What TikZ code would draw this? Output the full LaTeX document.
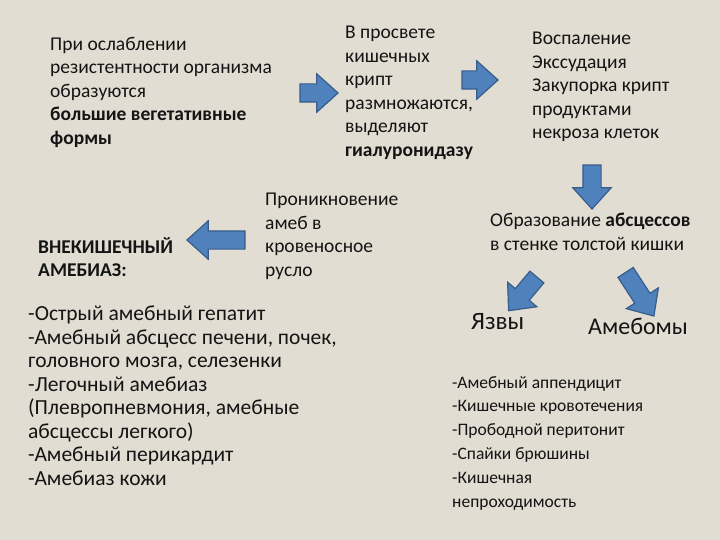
\documentclass[tikz,border=0pt]{standalone}
\usepackage{fontspec}
\setmainfont{Carlito}
\usetikzlibrary{shapes.arrows}
\definecolor{bg}{RGB}{226,221,210}
\definecolor{af}{RGB}{79,129,189}
\definecolor{ad}{RGB}{56,93,138}
\definecolor{tx}{RGB}{20,20,20}
\tikzset{
 txt/.style={anchor=north west,align=left,inner sep=0pt,text=tx,font=\fontsize{19.5}{23.5}\selectfont},
 big/.style={anchor=north west,align=left,inner sep=0pt,text=tx,font=\fontsize{21.5}{23.5}\selectfont},
 barrow/.style={single arrow,fill=af,draw=ad,line width=1.2pt,minimum width=38pt,single arrow head extend=10pt,single arrow tip angle=84,inner xsep=0pt,inner ysep=8.5pt,anchor=center}
}
\begin{document}
\begin{tikzpicture}[x=1pt,y=-1pt]
\fill[bg] (0,0) rectangle (720,540);
\useasboundingbox (0,0) rectangle (720,540);
\node[txt] (t1) at (50,37) {При ослаблении\\резистентности организма\\образуются\\\textbf{большие вегетативные}\\\textbf{формы}};
\node[txt] (t2) at (345,26) {В просвете\\кишечных\\крипт\\размножаются,\\выделяют\\\textbf{гиалуронидазу}};
\node[txt] (t3) at (532,32) {Воспаление\\Экссудация\\Закупорка крипт\\продуктами\\некроза клеток};
\node[txt] (t4) at (38,237) {\textbf{ВНЕКИШЕЧНЫЙ}\\\textbf{АМЕБИАЗ:}};
\node[txt] (t5) at (265,193) {Проникновение\\амеб в\\кровеносное\\русло};
\node[txt] (t6) at (490,213) {Образование \textbf{абсцессов}\\в стенке толстой кишки};
\node[anchor=north west,inner sep=0pt,text=tx,font=\fontsize{25}{28}\selectfont] (t7) at (471,313) {Язвы};
\node[anchor=north west,inner sep=0pt,text=tx,font=\fontsize{24}{28}\selectfont] (t8) at (588,318) {Амебомы};
\node[big] (t9) at (28,306) {-Острый амебный гепатит\\-Амебный абсцесс печени, почек,\\головного мозга, селезенки\\-Легочный амебиаз\\(Плевропневмония, амебные\\абсцессы легкого)\\-Амебный перикардит\\-Амебиаз кожи};
\node[txt,font=\fontsize{17.5}{23.8}\selectfont] (t10) at (452,376) {-Амебный аппендицит\\-Кишечные кровотечения\\-Прободной перитонит\\-Спайки брюшины\\-Кишечная\\непроходимость};
\node[barrow,minimum height=38pt] (a1) at (314,93) {};
\node[barrow,minimum height=36pt] (a2) at (475,80) {};
\node[barrow,minimum height=44pt,rotate=-90] (a3) at (592,182) {};
\node[barrow,minimum height=58pt,rotate=180] (a4) at (221,240) {};
\node[barrow,minimum height=44pt,rotate=-130] (a5) at (526,290) {};
\node[barrow,minimum height=52pt,rotate=-57] (a6) at (637,290) {};
\end{tikzpicture}
\end{document}
